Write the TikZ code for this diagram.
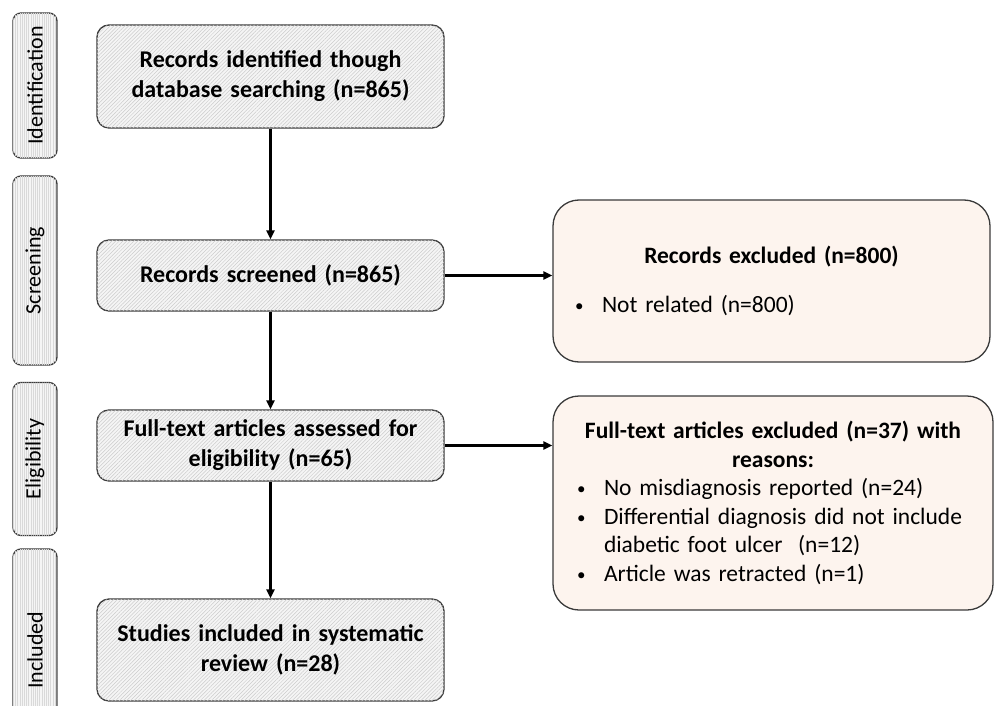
\documentclass[tikz,border=0pt]{standalone}
\usepackage{fontspec}
\setmainfont{Carlito}[WordSpace=0.8]
\usetikzlibrary{arrows.meta,patterns.meta}
\definecolor{edgecol}{HTML}{3A3A3A}
\definecolor{peach}{HTML}{FDF4EE}
\newcommand\bulmark{\makebox[27pt][l]{\raisebox{1pt}{\fontsize{17}{17}\selectfont\textbullet}}}
\begin{document}
\begin{tikzpicture}[x=1pt,y=-1pt,
  mainbox/.style={draw=edgecol, line width=1.3pt, rounded corners=12pt, fill=gray!8,
    postaction={pattern={Lines[angle=45,distance=2.6pt,line width=0.5pt]}, pattern color=gray!40},
    minimum width=347pt, text width=330pt, align=center, inner sep=0pt,
    font=\bfseries\fontsize{24}{30}\selectfont},
  sidebox/.style={draw=edgecol, line width=1.3pt, rounded corners=8pt, fill=gray!8,
    postaction={pattern={Lines[angle=90,distance=2.2pt,line width=0.5pt]}, pattern color=gray!30},
    rotate=90, minimum height=44pt, inner sep=0pt, font=\fontsize{22}{24}\selectfont},
  exbox/.style={draw=edgecol, line width=1.3pt, rounded corners=26pt, fill=peach,
    align=left, inner sep=0pt, font=\fontsize{23.5}{28.5}\selectfont},
  flow/.style={line width=2.4pt, -{Triangle[length=9pt,width=8pt]}}
]
\useasboundingbox (0,0) rectangle (998,706);

% side labels
\node[sidebox, minimum width=145pt] (sid) at (35,85.5) {Identification};
\node[sidebox, minimum width=189pt] (sscr) at (35,270.5) {Screening};
\node[sidebox, minimum width=153pt] (selig) at (35,459) {Eligibility};
\node[sidebox, minimum width=202pt] (sinc) at (35,650) {Included};

% main flow
\node[mainbox, minimum height=103pt] (b1) at (270.5,76.5) {Records identified though\\ database searching (n=865)};
\node[mainbox, minimum height=71pt] (b2) at (270.5,275.5) {Records screened (n=865)};
\node[mainbox, minimum height=71pt] (b3) at (270.5,445.5) {Full-text articles assessed for\\ eligibility (n=65)};
\node[mainbox, minimum height=102pt] (b4) at (270.5,650) {Studies included in systematic\\ review (n=28)};

% exclusion boxes
\node[exbox, minimum width=437pt, minimum height=162pt, text width=393pt] (ex1) at (771.5,281) {%
  {\centering\bfseries Records excluded (n=800)\par}\vspace{20pt}
  \bulmark Not related (n=800)};
\node[exbox, minimum width=440pt, minimum height=214pt, text width=392pt] (ex2) at (773,503) {%
  {\centering\bfseries Full-text articles excluded (n=37) with\\ reasons:\par}
  \bulmark No misdiagnosis reported (n=24)\\
  \bulmark Differential diagnosis did not include\\
  \hspace*{27pt}diabetic foot ulcer\ \ (n=12)\\
  \bulmark Article was retracted (n=1)};

% connectors
\draw[flow] (b1) -- (b2);
\draw[flow] (b2) -- (b3);
\draw[flow] (b3) -- (b4);
\draw[flow] (b2.east) -- (b2.east -| ex1.west);
\draw[flow] (b3.east) -- (b3.east -| ex2.west);
\end{tikzpicture}
\end{document}
